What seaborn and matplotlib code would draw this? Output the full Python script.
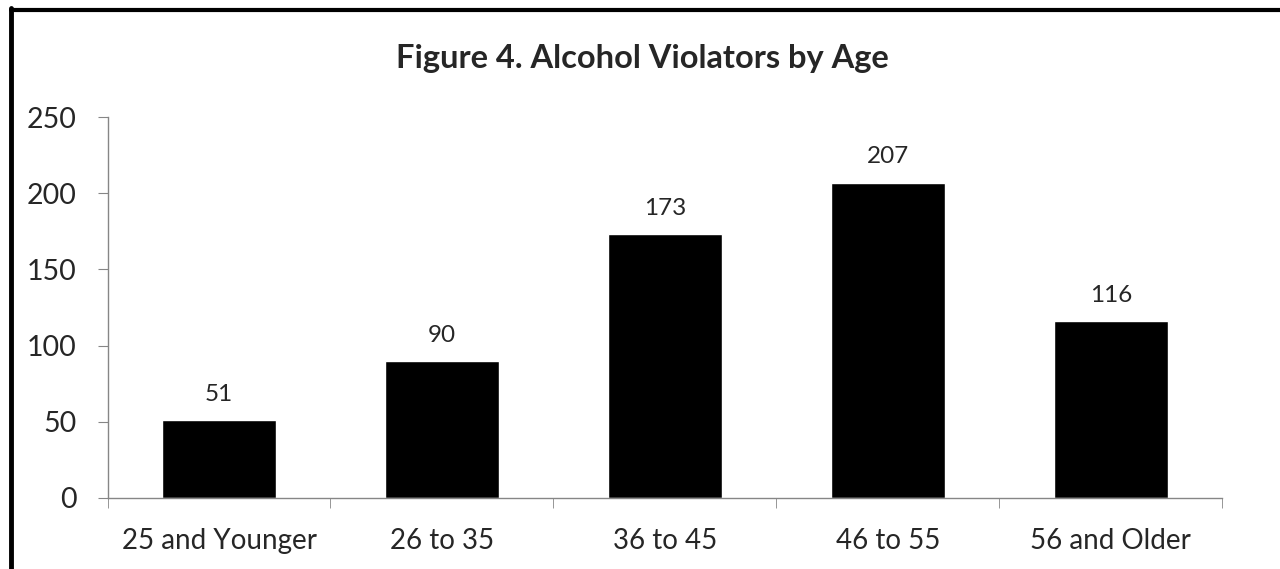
import matplotlib
matplotlib.use("Agg")
import matplotlib.pyplot as plt
import seaborn as sb
import pandas as pd
import numpy as np
from matplotlib.lines import Line2D

# data
age_groups = ["25 and Younger", "26 to 35", "36 to 45", "46 to 55", "56 and Older"]
violators = [51, 90, 173, 207, 116]
y_ticks = [0, 50, 100, 150, 200, 250]

df = pd.DataFrame({"age": age_groups, "count": violators})

sb.set_style("white")
plt.rcParams['font.family'] = ['Lato', 'DejaVu Sans']

fig = plt.figure(figsize=(12.8, 5.69), dpi=100)
ax = fig.add_axes([0.084, 0.125, 0.871, 0.669])

sb.barplot(data=df, x="age", y="count", color="black", width=0.51,
           saturation=1, ax=ax)

for i, v in enumerate(violators):
    ax.text(i, v + 10, str(v), ha="center", va="bottom", fontsize=17.5)

ax.set_xlim(-0.5, len(age_groups) - 0.5)
ax.set_ylim(0, 250)
ax.set_yticks(y_ticks)
ax.tick_params(axis="y", labelsize=20.5, length=7, color="#868686", pad=15, left=True)
ax.tick_params(axis="x", labelsize=20, length=0, pad=22)
ax.set_xticks(np.arange(-0.5, len(age_groups)), minor=True)
ax.tick_params(axis="x", which="minor", length=7, color="#868686", bottom=True)
ax.set_xlabel("")
ax.set_ylabel("")

for s in ["top", "right"]:
    ax.spines[s].set_visible(False)
for s in ["left", "bottom"]:
    ax.spines[s].set_color("#868686")
    ax.spines[s].set_linewidth(1)

fig.suptitle("Figure 4. Alcohol Violators by Age", fontsize=23.5, fontweight="bold",
             x=0.502, y=0.922)

# chart border (only top and left are visible in the crop)
fig.lines.append(Line2D([10.5 / 1280, 1], [1 - 9.5 / 569, 1 - 9.5 / 569],
                        transform=fig.transFigure, color="black", linewidth=3))
fig.lines.append(Line2D([10.5 / 1280, 10.5 / 1280], [0, 1 - 8 / 569],
                        transform=fig.transFigure, color="black", linewidth=3.5))

plt.savefig("out.png", dpi=100)
plt.close()
